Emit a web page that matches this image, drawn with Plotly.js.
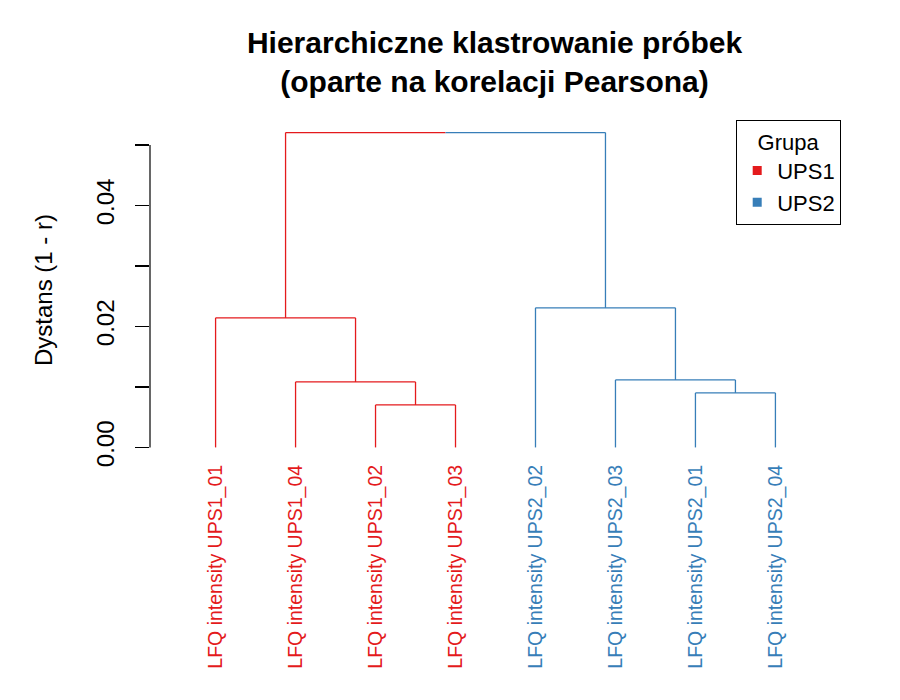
<!DOCTYPE html>
<html>
<head>
<meta charset="utf-8">
<script src="https://cdn.plot.ly/plotly-3.0.1.min.js"></script>
<style>html,body{margin:0;padding:0;background:#fff;}#chart{width:900px;height:700px;}</style>
</head>
<body>
<div id="chart"></div>
<script>
// ---- data ----
const leafLabels = ["LFQ intensity UPS1_01", "LFQ intensity UPS1_04", "LFQ intensity UPS1_02", "LFQ intensity UPS1_03",
                    "LFQ intensity UPS2_02", "LFQ intensity UPS2_03", "LFQ intensity UPS2_01", "LFQ intensity UPS2_04"];
const leafGroups = ["UPS1", "UPS1", "UPS1", "UPS1", "UPS2", "UPS2", "UPS2", "UPS2"];
// hclust-style merge table (negative = leaf position in display order, positive = earlier merge step)
const mergeA = [-3, -7, -2, -6, -1, -5, 5];
const mergeB = [-4, -8, 1, 2, 3, 4, 6];
const mergeHeight = [0.00702, 0.00901, 0.01083, 0.01116, 0.02142, 0.02308, 0.05205];
const groupNames = ["UPS1", "UPS2"];
const groupColors = ["#E41A1C", "#377EB8"];
const yTickValues = [0, 0.01, 0.02, 0.03, 0.04, 0.05];
const yTickLabels = ["0.00", "", "0.02", "", "0.04", ""];

// ---- build dendrogram segments ----
const colorOf = g => groupColors[groupNames.indexOf(g)];
const nodeX = [], nodeH = [], nodeGroup = [];
function info(ref) {
  if (ref < 0) { const i = -ref - 1; return {x: i + 1, h: 0, g: leafGroups[i]}; }
  return {x: nodeX[ref - 1], h: nodeH[ref - 1], g: nodeGroup[ref - 1]};
}
const segs = {}; groupColors.forEach(c => segs[c] = {x: [], y: []});
function seg(c, x0, y0, x1, y1) { segs[c].x.push(x0, x1, null); segs[c].y.push(y0, y1, null); }
for (let k = 0; k < mergeA.length; k++) {
  const a = info(mergeA[k]), b = info(mergeB[k]), h = mergeHeight[k];
  const g = (a.g && a.g === b.g) ? a.g : null;
  nodeX.push((a.x + b.x) / 2); nodeH.push(h); nodeGroup.push(g);
  seg(colorOf(a.g), a.x, a.h, a.x, h);
  seg(colorOf(b.g), b.x, b.h, b.x, h);
  if (g) seg(colorOf(g), a.x, h, b.x, h);
  else { const m = (a.x + b.x) / 2; seg(colorOf(a.g), a.x, h, m, h); seg(colorOf(b.g), m, h, b.x, h); }
}

const traces = groupColors.map(c => ({
  type: "scatter", mode: "lines", x: segs[c].x, y: segs[c].y,
  line: {color: c, width: 1.3}, hoverinfo: "skip", showlegend: false
}));
groupNames.forEach((g, i) => traces.push({
  type: "scatter", mode: "markers", x: [null], y: [null], name: g,
  marker: {symbol: "square", size: 9, color: groupColors[i]}, showlegend: true
}));

const leafPositions = leafLabels.map((_, i) => i + 1);
const leafTickText = leafLabels.map((l, i) => '<span style="color:' + colorOf(leafGroups[i]) + '">' + l + '</span>');

const layout = {
  width: 900, height: 700,
  margin: {l: 150, r: 59, t: 120, b: 240},
  paper_bgcolor: "#fff", plot_bgcolor: "#fff",
  font: {family: "Liberation Sans, Arial, sans-serif", color: "#000"},
  title: {
    text: "<b>Hierarchiczne klastrowanie próbek<br>(oparte na korelacji Pearsona)</b>",
    font: {size: 30, family: "Liberation Sans, Arial, sans-serif"},
    x: 0.5495, xanchor: "center", y: 0.925, yanchor: "top", yref: "container"
  },
  xaxis: {
    range: [0.18, 8.82], showgrid: false, zeroline: false, showline: false,
    tickmode: "array", tickvals: leafPositions, ticktext: leafTickText,
    tickangle: -90, ticks: "", tickfont: {size: 19.5}, ticklabelstandoff: 0
  },
  yaxis: {
    range: [-0.00208, 0.05413], showgrid: false, zeroline: false, showline: false,
    tickmode: "array", tickvals: yTickValues, ticktext: yTickLabels,
    ticks: "outside", ticklen: 14, tickwidth: 1.2, tickcolor: "#000",
    tickangle: -90, tickfont: {size: 24}, ticklabelstandoff: 11,
    title: {text: "Dystans (1 - r)", font: {size: 24}, standoff: 33}
  },
  shapes: [{type: "line", xref: "paper", yref: "y", x0: 0, x1: 0,
            y0: yTickValues[0], y1: yTickValues[yTickValues.length - 1],
            line: {color: "#000", width: 1.2}}],
  legend: {
    x: 1, xanchor: "right", y: 1, yanchor: "top",
    bgcolor: "#fff", bordercolor: "#000", borderwidth: 1.2,
    font: {size: 22}, title: {text: "Grupa", side: "top center", font: {size: 22}},
    itemwidth: 30, entrywidth: 102, entrywidthmode: "pixels"
  }
};

Plotly.newPlot("chart", traces, layout, {displayModeBar: false, staticPlot: true});
</script>
</body>
</html>
